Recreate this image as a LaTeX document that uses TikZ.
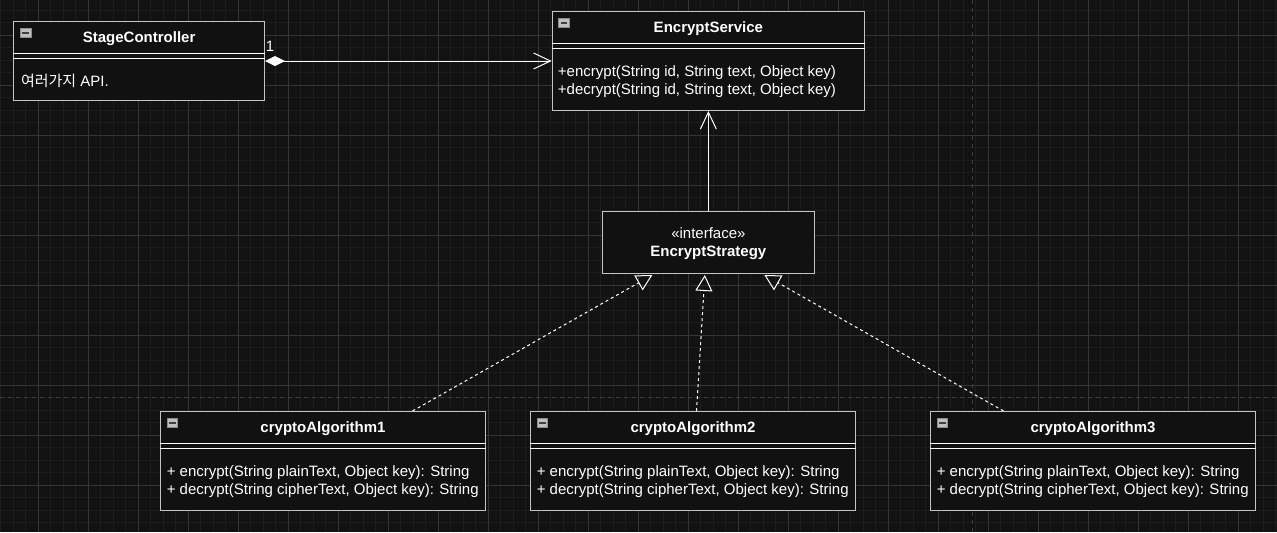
\documentclass[tikz,border=0pt]{standalone}
\usepackage{fontspec}
\setmainfont{Liberation Sans}
\newfontfamily\kofont{Noto Sans CJK KR}
\usetikzlibrary{calc,arrows.meta}

\definecolor{bgcol}{HTML}{121212}
\definecolor{minorcol}{HTML}{1D1D1D}
\definecolor{majorcol}{HTML}{353535}
\definecolor{pagecol}{HTML}{3E3E3E}
\definecolor{edgecol}{HTML}{C4C4C4}
\definecolor{fillcol}{HTML}{111111}

\def\px{0.75pt}

\begin{document}
\begin{tikzpicture}[x=0.75pt,y=-0.75pt,
	font=\fontsize{11.25}{13.5}\selectfont,
	classbox/.style={draw=edgecol,line width=\px,fill=fillcol,inner sep=0pt,anchor=north west},
	title/.style={text=white,inner sep=0pt,font=\fontsize{11.25}{13.5}\selectfont\bfseries},
	members/.style={text=white,inner sep=0pt,align=left,anchor=west},
	sepline/.style={white,line width=\px},
	icon/.style={draw=black!45,fill=black!25,line width=0.5pt,inner sep=0pt,anchor=north west,
		minimum width=10.5*\px,minimum height=8.5*\px,
		path picture={\draw[black!75,line width=1.2pt]
			($(path picture bounding box.west)+(2,0)$) -- ($(path picture bounding box.east)+(-2,0)$);}},
	assoc/.style={white,line width=\px,
		{Diamond[length=15pt,width=7.5pt]}-{Straight Barb[length=12.75pt,width=12pt,line width=\px]}},
	inherit/.style={white,line width=\px,-{Straight Barb[length=12.75pt,width=12pt,line width=\px]}},
	realize/.style={white,line width=\px,dash pattern=on 2.25pt off 2.25pt,
		-{Triangle[open,length=12pt,width=12.75pt,line width=\px]}}]
	
	% ---- (A) canvas and grid ----
	\useasboundingbox (0,0) rectangle (1277,532);
	\fill[bgcol] (0,0) rectangle (1277,532);
	
	\foreach \gx in {0.5,13,...,1277}
		\draw[minorcol,line width=\px] (\gx,0) -- (\gx,532);
	\foreach \gy in {10,22.5,...,532}
		\draw[minorcol,line width=\px] (0,\gy) -- (1277,\gy);
	\foreach \gx in {38,88,...,1277}
		\draw[majorcol,line width=\px] (\gx,0) -- (\gx,532);
	\foreach \gy in {35,85,...,532}
		\draw[majorcol,line width=\px] (0,\gy) -- (1277,\gy);
	
	% page breaks
	\draw[pagecol,line width=\px,dash pattern=on 3pt off 3pt] (0,397) -- (1277,397);
	\draw[pagecol,line width=\px,dash pattern=on 3pt off 3pt] (972,0) -- (972,532);
	
	% ---- (B) StageController ----
	\node[classbox,minimum width=250.7*\px,minimum height=79*\px] (stage) at (13.3,21) {};
	\node[icon] (stage-icon) at ($(stage.north west)+(6.7,7.3)$) {};
	\node[title] (stage-title) at ($(stage.north)+(0,18)$) {StageController};
	\draw[sepline] ($(stage.north west)+(0,32.5)$) -- ($(stage.north east)+(0,32.5)$);
	\draw[sepline] ($(stage.north west)+(0,37.5)$) -- ($(stage.north east)+(0,37.5)$);
	\node[members] (stage-body) at ($(stage.north west)+(7.5,60)$) {{\kofont 여러가지} API.};
	
	% ---- (C) EncryptService ----
	\node[classbox,minimum width=312.3*\px,minimum height=99*\px] (svc) at (551.7,11) {};
	\node[icon] (svc-icon) at ($(svc.north west)+(6.7,7.3)$) {};
	\node[title] (svc-title) at ($(svc.north)+(0,18)$) {EncryptService};
	\draw[sepline] ($(svc.north west)+(0,32.5)$) -- ($(svc.north east)+(0,32.5)$);
	\draw[sepline] ($(svc.north west)+(0,37.5)$) -- ($(svc.north east)+(0,37.5)$);
	\node[members] (svc-body) at ($(svc.north west)+(6,71)$)
		{+encrypt(String id, String text, Object key)\\+decrypt(String id, String text, Object key)};
	
	% ---- (D) interface ----
	\node[classbox,minimum width=212.3*\px,minimum height=62*\px] (iface) at (601.7,210.7) {};
	\node[text=white,inner sep=0pt,align=center] (iface-text) at ($(iface.center)+(0,1)$)
		{«interface»\\\textbf{EncryptStrategy}};
	
	% ---- (E) the three algorithms ----
	\foreach \n/\xl in {1/160,2/530,3/930}{
		\node[classbox,minimum width=325*\px,minimum height=99*\px] (alg\n) at (\xl,411) {};
		\node[icon] (alg\n-icon) at ($(alg\n.north west)+(6.7,7.3)$) {};
		\node[title] (alg\n-title) at ($(alg\n.north)+(0,18)$) {cryptoAlgorithm\n};
		\draw[sepline] ($(alg\n.north west)+(0,32.5)$) -- ($(alg\n.north east)+(0,32.5)$);
		\draw[sepline] ($(alg\n.north west)+(0,37.5)$) -- ($(alg\n.north east)+(0,37.5)$);
		\node[members] (alg\n-body) at ($(alg\n.north west)+(6.5,71)$)
			{+ encrypt(String plainText, Object key): String\\+ decrypt(String cipherText, Object key): String};
	}
	
	% ---- (F) connectors ----
	\draw[assoc] (stage.east) -- (svc.west);
	\node[text=white,inner sep=0pt] (mult) at ($(stage.east)+(5,-14.5)$) {1};
	\draw[inherit] (iface.north) -- (svc.south);
	
	\draw[realize] ($(alg1.north)+(89.5,0)$) -- ($(iface.south)+(-56,1.3)$);
	\draw[realize] ($(alg2.north)+(3.5,0)$) -- ($(iface.south)+(-3.5,1.3)$);
	\draw[realize] ($(alg3.north)+(-89.5,0)$) -- ($(iface.south)+(56,1.3)$);
	
\end{tikzpicture}
\end{document}
